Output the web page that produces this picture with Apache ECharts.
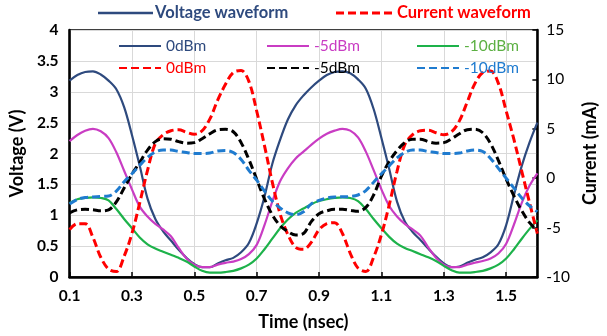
<!DOCTYPE html>
<html>
<head>
<meta charset="utf-8">
<script src="https://cdn.jsdelivr.net/npm/echarts@6/dist/echarts.min.js"></script>
<style>
  html, body { margin: 0; padding: 0; background: #fff; }
  #chart { width: 607px; height: 336px; }
</style>
</head>
<body>
<div id="chart"></div>
<script>
// Time axis samples (ns)
const time = [
  0.1, 0.125, 0.15, 0.175, 0.2, 0.225, 0.25, 0.275, 0.3, 0.325,
  0.35, 0.375, 0.4, 0.425, 0.45, 0.475, 0.5, 0.525, 0.55, 0.575,
  0.6, 0.625, 0.65, 0.675, 0.7, 0.725, 0.75, 0.775, 0.8, 0.825,
  0.85, 0.875, 0.9, 0.925, 0.95, 0.975, 1.0, 1.025, 1.05, 1.075,
  1.1, 1.125, 1.15, 1.175, 1.2, 1.225, 1.25, 1.275, 1.3, 1.325,
  1.35, 1.375, 1.4, 1.425, 1.45, 1.475, 1.5, 1.525, 1.55, 1.575, 1.6
];

// Voltage waveforms (V)
const voltage0dBm = [
  3.18, 3.27, 3.32, 3.33, 3.28, 3.18, 3.04, 2.75, 2.30, 1.80,
  1.27, 0.94, 0.74, 0.59, 0.44, 0.31, 0.21, 0.16, 0.16, 0.22,
  0.27, 0.31, 0.40, 0.55, 0.87, 1.30, 1.83, 2.22, 2.55, 2.78,
  2.94, 3.07, 3.18, 3.27, 3.32, 3.33, 3.30, 3.20, 3.05, 2.72,
  2.25, 1.75, 1.22, 0.90, 0.73, 0.60, 0.46, 0.33, 0.22, 0.16,
  0.17, 0.23, 0.28, 0.32, 0.40, 0.53, 0.84, 1.33, 1.80, 2.18, 2.50
];
const voltageM5dBm = [
  2.20, 2.30, 2.37, 2.40, 2.36, 2.25, 2.02, 1.72, 1.42, 1.14,
  0.98, 0.86, 0.77, 0.66, 0.47, 0.30, 0.20, 0.16, 0.16, 0.20,
  0.23, 0.25, 0.29, 0.37, 0.52, 0.84, 1.22, 1.55, 1.76, 1.92,
  2.03, 2.14, 2.24, 2.32, 2.37, 2.40, 2.37, 2.26, 2.03, 1.73,
  1.42, 1.15, 0.98, 0.86, 0.77, 0.67, 0.48, 0.31, 0.20, 0.16,
  0.16, 0.20, 0.23, 0.26, 0.30, 0.38, 0.54, 0.85, 1.20, 1.48, 1.68
];
const voltageM10dBm = [
  1.20, 1.26, 1.28, 1.29, 1.28, 1.24, 1.10, 0.94, 0.79, 0.64,
  0.53, 0.46, 0.41, 0.36, 0.31, 0.25, 0.17, 0.10, 0.07, 0.07,
  0.08, 0.10, 0.14, 0.20, 0.30, 0.45, 0.62, 0.79, 0.93, 1.04,
  1.11, 1.18, 1.23, 1.26, 1.28, 1.29, 1.28, 1.23, 1.10, 0.94,
  0.79, 0.65, 0.54, 0.47, 0.42, 0.37, 0.32, 0.26, 0.18, 0.11,
  0.07, 0.07, 0.08, 0.10, 0.14, 0.20, 0.30, 0.45, 0.62, 0.78, 0.92
];

// Current waveforms (mA)
const current0dBm = [
  -5.2, -4.6, -4.6, -6.0, -8.0, -9.2, -9.45, -7.9, -5.6, -2.5,
  0.8, 3.5, 4.4, 4.8, 4.9, 4.65, 4.45, 4.8, 6.0, 7.9,
  9.5, 10.7, 10.9, 9.8, 6.8, 3.3, -0.4, -3.6, -5.7, -7.0,
  -7.2, -6.5, -5.2, -4.6, -4.5, -5.6, -7.6, -9.1, -9.45, -8.0,
  -5.7, -2.7, 0.7, 3.4, 4.4, 4.8, 4.85, 4.6, 4.4, 4.7,
  5.8, 7.7, 9.6, 10.7, 10.85, 9.6, 6.8, 3.9, 0.7, -2.5, -5.6
];
const currentM5dBm = [
  -3.5, -3.2, -3.15, -3.2, -3.3, -3.2, -2.4, -1.0, 0.4, 1.6,
  2.85, 3.7, 4.0, 3.95, 3.7, 3.55, 3.6, 4.0, 4.5, 4.9,
  4.95, 4.7, 3.6, 1.9, -0.1, -2.1, -3.7, -4.8, -5.4, -5.75,
  -5.6, -4.4, -3.6, -3.3, -3.15, -3.15, -3.25, -3.35, -2.95, -1.7,
  0.2, 1.7, 2.8, 3.6, 3.95, 3.95, 3.7, 3.55, 3.6, 4.0,
  4.5, 4.9, 4.95, 4.6, 3.5, 1.8, -0.1, -1.8, -3.3, -4.5, -5.3
];
const currentM10dBm = [
  -2.6, -2.15, -1.95, -1.9, -1.85, -1.8, -1.3, -0.35, 0.45, 1.3,
  2.1, 2.65, 2.85, 2.85, 2.7, 2.6, 2.5, 2.5, 2.55, 2.75,
  2.8, 2.6, 1.9, 0.8, -0.2, -1.3, -2.3, -3.0, -3.5, -3.7,
  -3.4, -2.6, -2.25, -2.0, -1.9, -1.88, -1.85, -1.7, -1.25, -0.4,
  0.45, 1.25, 2.05, 2.6, 2.85, 2.85, 2.7, 2.6, 2.5, 2.5,
  2.55, 2.75, 2.85, 2.7, 2.0, 1.0, 0.0, -1.0, -2.0, -2.8, -3.4
];

// Axis tick settings
const timeStart = 0.1;
const timeEnd = 1.6;
const timeStep = 0.2;
const voltTicks = { min: 0, max: 4, step: 0.5 };
const currTicks = { min: -10, max: 15, step: 5 };

const NAVY = '#2E4A7E';
const MAGENTA = '#C93CC3';
const GREEN = '#1DB24A';
const RED = '#FF0000';
const BLACK = '#000000';
const BLUE = '#1F7BCF';
const FONT = 'Lato, "Open Sans", sans-serif';

// The time axis is laid out from zero so tick marks fall on 0.1, 0.3, ...
const pairs = (vals) => time.map((t, i) => [+(t - timeStart).toFixed(4), vals[i]]);

const solid = (name, color, vals) => ({
  name, type: 'line', yAxisIndex: 0, data: pairs(vals),
  smooth: 0.35, symbol: 'none', showSymbol: false,
  lineStyle: { color, width: 2.2, type: 'solid' }, itemStyle: { color }
});
const dashed = (name, color, vals) => ({
  name, type: 'line', yAxisIndex: 1, data: pairs(vals),
  smooth: 0.35, symbol: 'none', showSymbol: false,
  lineStyle: { color, width: 3, type: [8, 4] }, itemStyle: { color }
});

const legendBase = {
  orient: 'vertical', top: 33, itemWidth: 42, itemHeight: 14, itemGap: 6,
  selectedMode: false,
  itemStyle: { opacity: 0 },
  formatter: (n) => n.slice(2),
  textStyle: { fontFamily: FONT, fontSize: 15.5 }
};

const chart = echarts.init(document.getElementById('chart'), null, { renderer: 'canvas' });
chart.setOption({
  backgroundColor: '#fff',
  animation: false,
  grid: {
    left: 69, right: 53, top: 30, bottom: 59,
    show: true, borderColor: '#000', borderWidth: 1.5, backgroundColor: 'transparent'
  },
  legend: [
    Object.assign({}, legendBase, { left: 113, data: [
      { name: 'V 0dBm', textStyle: { color: NAVY } },
      { name: 'I 0dBm', textStyle: { color: RED } }
    ] }),
    Object.assign({}, legendBase, { left: 261, data: [
      { name: 'V -5dBm', textStyle: { color: MAGENTA } },
      { name: 'I -5dBm', textStyle: { color: BLACK } }
    ] }),
    Object.assign({}, legendBase, { left: 411, data: [
      { name: 'V -10dBm', textStyle: { color: '#5CB043' } },
      { name: 'I -10dBm', textStyle: { color: BLUE } }
    ] })
  ],
  xAxis: {
    type: 'value', min: 0, max: +(timeEnd - timeStart).toFixed(4), interval: timeStep,
    name: 'Time (nsec)', nameLocation: 'middle', nameGap: 36,
    nameTextStyle: { fontFamily: FONT, fontSize: 18, fontWeight: 'bold', color: '#000' },
    axisLine: { show: true, onZero: false, lineStyle: { color: '#000', width: 2.5 } },
    axisTick: { show: true, inside: true, length: 5, lineStyle: { color: '#000', width: 1.5 } },
    axisLabel: {
      showMaxLabel: false, margin: 11, color: '#000', fontFamily: FONT, fontSize: 15.5, fontWeight: 'bold',
      formatter: (v) => (v + timeStart).toFixed(1)
    },
    splitLine: { show: true, lineStyle: { color: '#D9D9D9', width: 1 } }
  },
  yAxis: [
    {
      type: 'value', min: voltTicks.min, max: voltTicks.max, interval: voltTicks.step,
      name: 'Voltage (V)', nameLocation: 'middle', nameGap: 42, nameRotate: 90,
      nameTextStyle: { fontFamily: FONT, fontSize: 18, fontWeight: 'bold', color: '#000' },
      axisLine: { show: true, lineStyle: { color: '#000', width: 2.5 } },
      axisTick: { show: false },
      axisLabel: { margin: 11, color: '#000', fontFamily: FONT, fontSize: 15.5, fontWeight: 'bold' },
      splitLine: { show: true, lineStyle: { color: '#D9D9D9', width: 1 } }
    },
    {
      type: 'value', min: currTicks.min, max: currTicks.max, interval: currTicks.step,
      position: 'right',
      name: 'Current (mA)', nameLocation: 'middle', nameGap: 42, nameRotate: 90,
      nameTextStyle: { fontFamily: FONT, fontSize: 18, fontWeight: 'bold', color: '#000' },
      axisLine: { show: true, lineStyle: { color: '#000', width: 2.5 } },
      axisTick: { show: true, inside: true, length: 5, lineStyle: { color: '#000', width: 1.5 } },
      axisLabel: { margin: 9, color: '#000', fontFamily: FONT, fontSize: 15.5 },
      splitLine: { show: false }
    }
  ],
  graphic: [
    { type: 'line', shape: { x1: 98, y1: 13, x2: 153, y2: 13 }, style: { stroke: NAVY, lineWidth: 2.5 } },
    { type: 'text', left: 155, top: 4, style: { text: 'Voltage waveform', fill: NAVY, font: 'bold 16.5px ' + FONT } },
    { type: 'line', shape: { x1: 336, y1: 13, x2: 394, y2: 13 }, style: { stroke: RED, lineWidth: 3, lineDash: [8, 4] } },
    { type: 'text', left: 397, top: 4, style: { text: 'Current waveform', fill: RED, font: 'bold 16.5px ' + FONT } }
  ],
  series: [
    solid('V 0dBm', NAVY, voltage0dBm),
    solid('V -5dBm', MAGENTA, voltageM5dBm),
    solid('V -10dBm', GREEN, voltageM10dBm),
    dashed('I 0dBm', RED, current0dBm),
    dashed('I -5dBm', BLACK, currentM5dBm),
    dashed('I -10dBm', BLUE, currentM10dBm)
  ]
});
</script>
</body>
</html>
